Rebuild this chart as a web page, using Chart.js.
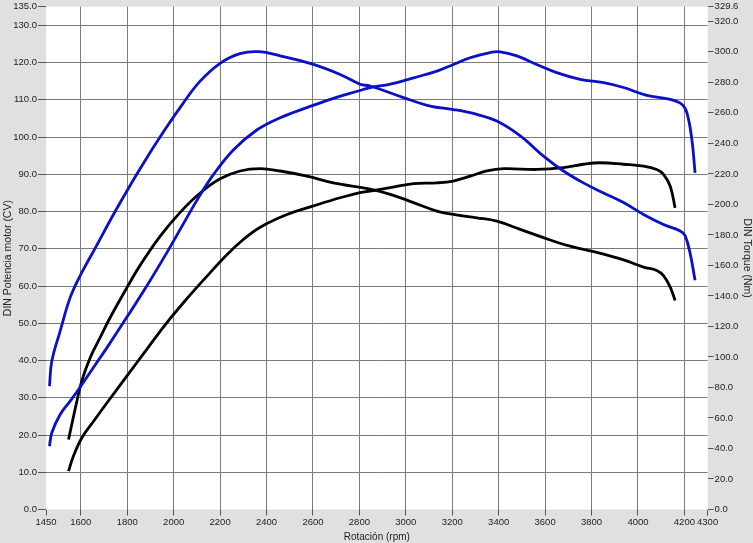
<!DOCTYPE html>
<html lang="es">
<head>
  <meta charset="UTF-8" />
  <title>Dyno - Potencia y Torque</title>
  <style>
    body, html {
      margin: 0;
      padding: 0;
      background: #e0e0e0;
    }
    #wrap {
      width: 753px;
      height: 543px;
    }
  </style>
</head>
<body>
<div id="wrap"><canvas id="dynoChart" width="753" height="543"></canvas></div>

<script src="https://cdn.jsdelivr.net/npm/chart.js"></script>
<script>
  // tick labels
  const rpmTicks = [1450, 1600, 1800, 2000, 2200, 2400, 2600, 2800, 3000, 3200, 3400, 3600, 3800, 4000, 4200, 4300];
  const cvTicks = [0, 10, 20, 30, 40, 50, 60, 70, 80, 90, 100, 110, 120, 130, 135];
  const nmTicks = [0, 20, 40, 60, 80, 100, 120, 140, 160, 180, 200, 220, 240, 260, 280, 300, 320, 329.6];

  // blue run - power (CV)
  const bluePowerRpm = [1465, 1475, 1511, 1554, 1600, 1655, 1712, 1798, 1884, 1970, 2028, 2100, 2171, 2258, 2358, 2459, 2574, 2688, 2803, 2846, 2933, 3033, 3134, 3205, 3277, 3363, 3406, 3478, 3564, 3650, 3751, 3852, 3938, 4038, 4139, 4189, 4211, 4232, 4246];
  const bluePowerCv = [17.0, 20.6, 25.5, 29.1, 33.1, 38.2, 43.4, 51.6, 60.0, 68.9, 75.2, 83.0, 89.9, 96.6, 101.9, 105.2, 107.9, 110.4, 112.5, 113.3, 114.2, 115.9, 117.7, 119.5, 121.3, 122.7, 122.9, 121.8, 119.5, 117.3, 115.5, 114.6, 113.3, 111.2, 110.1, 108.8, 106.5, 99.4, 90.4];

  // blue run - torque (Nm)
  const blueTorqueRpm = [1465, 1475, 1511, 1554, 1600, 1655, 1755, 1856, 1956, 2042, 2114, 2200, 2286, 2365, 2459, 2602, 2717, 2803, 2846, 2990, 3105, 3205, 3306, 3392, 3493, 3593, 3679, 3765, 3852, 3938, 4024, 4110, 4182, 4203, 4225, 4246];
  const blueTorqueNm = [80.8, 97.2, 116.9, 138.9, 154.1, 169.4, 197.3, 223.6, 247.6, 266.6, 280.8, 292.5, 298.8, 300.1, 297.4, 291.8, 285.2, 278.8, 277.6, 270.0, 264.4, 262.2, 259.0, 254.6, 244.9, 231.7, 221.9, 214.1, 207.5, 201.2, 193.4, 186.8, 182.6, 179.5, 167.7, 150.2];

  // black run - power (CV)
  const blackPowerRpm = [1547, 1568, 1604, 1655, 1712, 1798, 1884, 1970, 2057, 2143, 2229, 2300, 2373, 2488, 2602, 2717, 2803, 2846, 2933, 3033, 3134, 3205, 3277, 3349, 3421, 3564, 3679, 3765, 3837, 3938, 4024, 4081, 4110, 4139, 4160];
  const blackPowerCv = [10.3, 14.3, 19.2, 23.7, 28.6, 35.8, 43.0, 50.1, 56.6, 62.6, 68.4, 72.5, 75.8, 79.2, 81.5, 83.7, 85.1, 85.5, 86.4, 87.5, 87.7, 88.2, 89.5, 90.9, 91.5, 91.3, 91.8, 92.7, 93.1, 92.7, 92.2, 91.3, 90.0, 86.8, 81.0];

  // black run - torque (Nm)
  const blackTorqueRpm = [1547, 1561, 1583, 1604, 1640, 1683, 1726, 1798, 1856, 1942, 2028, 2114, 2200, 2286, 2373, 2459, 2574, 2688, 2846, 2933, 3033, 3134, 3205, 3306, 3392, 3493, 3593, 3708, 3823, 3938, 4024, 4081, 4110, 4139, 4160];
  const blackTorqueNm = [45.9, 55.7, 71.0, 84.2, 99.4, 112.6, 125.7, 145.3, 160.2, 179.2, 194.8, 207.5, 216.8, 221.9, 223.4, 221.9, 218.5, 214.1, 210.0, 206.6, 201.2, 195.6, 193.4, 191.2, 189.0, 183.6, 178.2, 172.6, 168.5, 163.6, 158.9, 156.7, 153.3, 145.8, 137.0];

  function pts(xs, ys) {
    return xs.map((x, i) => ({ x: x, y: ys[i] }));
  }

  function fixTicks(list) {
    return function (scale) {
      scale.ticks = list.map(v => ({ value: v }));
    };
  }

  const FONT = "'Liberation Sans', Arial, sans-serif";
  const BLUE = '#0a0fc8';

  // white plot area on grey page
  const plotBg = {
    id: 'plotBg',
    beforeDraw(chart) {
      const { ctx, chartArea: a } = chart;
      ctx.save();
      ctx.fillStyle = '#e0e0e0';
      ctx.fillRect(0, 0, chart.width, chart.height);
      ctx.fillStyle = '#ffffff';
      ctx.fillRect(a.left, a.top, a.right - a.left, a.bottom - a.top);
      ctx.restore();
    }
  };

  function lineSet(label, data, color, axis) {
    return {
      label: label,
      data: data,
      yAxisID: axis,
      borderColor: color,
      borderWidth: 2.8,
      pointRadius: 0,
      fill: false,
      tension: 0.4
    };
  }

  new Chart(document.getElementById('dynoChart').getContext('2d'), {
    type: 'line',
    data: {
      datasets: [
        lineSet('Potencia azul', pts(bluePowerRpm, bluePowerCv), BLUE, 'y'),
        lineSet('Torque azul', pts(blueTorqueRpm, blueTorqueNm), BLUE, 'y2'),
        lineSet('Potencia negro', pts(blackPowerRpm, blackPowerCv), '#000000', 'y'),
        lineSet('Torque negro', pts(blackTorqueRpm, blackTorqueNm), '#000000', 'y2')
      ]
    },
    options: {
      responsive: false,
      animation: false,
      layout: { padding: { top: 6, left: 0, right: 0, bottom: 0 } },
      plugins: {
        legend: { display: false },
        tooltip: { enabled: false }
      },
      scales: {
        x: {
          type: 'linear',
          min: 1450,
          max: 4300,
          afterBuildTicks: fixTicks(rpmTicks),
          afterFit(scale) { scale.height = 33.5; },
          border: { display: false },
          grid: {
            color: c => (c.tick && (c.tick.value === 1450 || c.tick.value === 4300)) ? 'rgba(0,0,0,0)' : '#7a7a7a',
            tickColor: '#555',
            tickLength: 6,
            lineWidth: 1
          },
          ticks: {
            autoSkip: false,
            maxRotation: 0,
            padding: 1,
            color: '#222',
            font: { family: FONT, size: 9.5 },
            callback: v => String(v)
          },
          title: {
            display: true,
            text: 'Rotación (rpm)',
            color: '#222',
            padding: { top: 1, bottom: 0 },
            font: { family: FONT, size: 10 }
          }
        },
        y: {
          position: 'left',
          min: 0,
          max: 135,
          afterBuildTicks: fixTicks(cvTicks),
          afterFit(scale) { scale.width = 46; },
          border: { display: false },
          grid: {
            color: c => (c.tick && (c.tick.value === 0 || c.tick.value === 135)) ? 'rgba(0,0,0,0)' : '#7a7a7a',
            tickColor: '#555',
            tickLength: 8,
            lineWidth: 1
          },
          ticks: {
            padding: 1,
            color: '#222',
            font: { family: FONT, size: 9.5 },
            callback: v => Number(v).toFixed(1)
          },
          title: {
            display: true,
            text: 'DIN Potencia motor (CV)',
            color: '#222',
            padding: { top: 2, bottom: 0 },
            font: { family: FONT, size: 10.5 }
          }
        },
        y2: {
          position: 'right',
          min: 0,
          max: 329.6,
          afterBuildTicks: fixTicks(nmTicks),
          afterFit(scale) { scale.width = 45.4; },
          border: { display: false },
          grid: {
            drawOnChartArea: false,
            color: '#555',
            tickLength: 6
          },
          ticks: {
            padding: 1,
            color: '#222',
            font: { family: FONT, size: 9.5 },
            callback: v => Number(v).toFixed(1)
          },
          title: {
            display: true,
            text: 'DIN Torque (Nm)',
            color: '#222',
            padding: { top: 0, bottom: 2 },
            font: { family: FONT, size: 10.5 }
          }
        }
      }
    },
    plugins: [plotBg]
  });
</script>
</body>
</html>
